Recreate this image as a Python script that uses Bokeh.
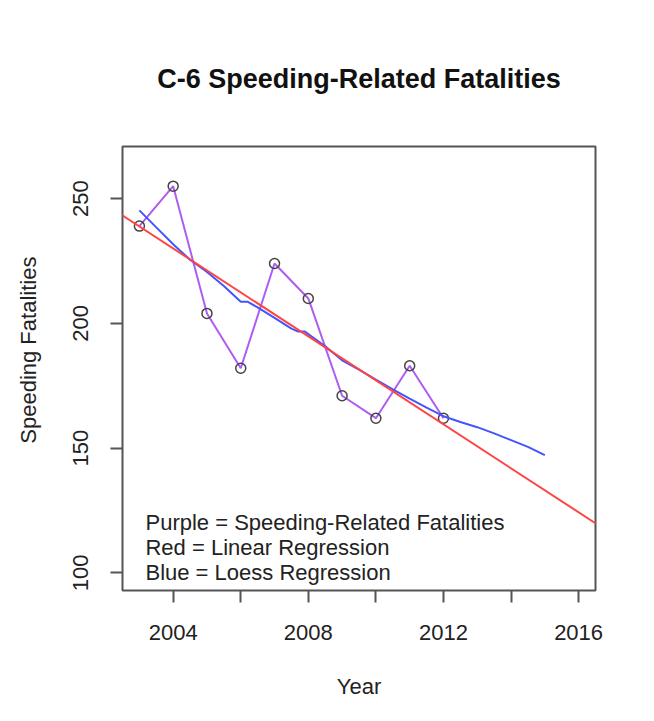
from bokeh.plotting import figure
from bokeh.models import Range1d, FixedTicker, Slope
from bokeh.core.properties import value
from bokeh.embed import file_html
from bokeh.resources import INLINE
import numpy as np

# ---- data ----
years = [2003, 2004, 2005, 2006, 2007, 2008, 2009, 2010, 2011, 2012]
fatalities = [239, 255, 204, 182, 224, 210, 171, 162, 183, 162]

loess_years = [2003.0, 2003.5, 2004.0, 2004.5, 2005.0, 2005.5, 2006.0, 2006.2,
               2006.5, 2007.0, 2007.5, 2007.7, 2007.9, 2008.1, 2008.5, 2009.0,
               2009.5, 2010.0, 2010.5, 2011.0, 2011.5, 2012.0, 2012.5, 2013.0,
               2013.5, 2014.0, 2014.5, 2015.0]
loess_values = [245.3, 238.5, 231.7, 225.5, 220.6, 215.0, 208.7, 208.7,
                206.4, 202.2, 197.9, 196.7, 196.7, 194.7, 190.8, 185.2,
                181.5, 177.5, 173.6, 169.8, 166.2, 162.8, 160.5, 158.4,
                155.9, 153.2, 150.5, 147.2]

x_ticks = [2004, 2006, 2008, 2010, 2012, 2014, 2016]
x_tick_labels = {2004: "2004", 2006: "", 2008: "2008", 2010: "", 2012: "2012", 2014: "", 2016: "2016"}
y_ticks = [100, 150, 200, 250]

legend_lines = ["Purple = Speeding-Related Fatalities",
                "Red = Linear Regression",
                "Blue = Loess Regression"]
legend_y = [120, 110, 100]
legend_x = [2003.18, 2003.18, 2003.18]

title_text = "C-6 Speeding-Related Fatalities"
x_label = "Year"
y_label = "Speeding Fatalities"

FONT = "Liberation Sans"
W, H = 654, 705
FL, FR, FT, FB = 122, 595, 146, 590   # plot frame edges in pixels

p = figure(width=W, height=H, output_backend="svg", toolbar_location=None,
           x_range=Range1d(2002.5, 2016.5), y_range=Range1d(92.94, 270.9),
           min_border_left=FL, min_border_right=W - FR,
           min_border_top=FT, min_border_bottom=H - FB)

p.background_fill_color = "white"
p.border_fill_color = "white"
p.outline_line_color = "#555555"
p.outline_line_width = 2
p.xgrid.visible = False
p.ygrid.visible = False

# title
p.title.text = title_text
p.title.align = "center"
p.title.text_font = FONT
p.title.text_font_size = "27px"
p.title.text_font_style = "bold"
p.title.text_color = "#111111"
p.title.standoff = 106

for ax in (p.xaxis[0], p.yaxis[0]):
    ax.axis_line_color = None
    ax.major_tick_line_color = "#555555"
    ax.major_tick_line_width = 2
    ax.major_tick_in = 0
    ax.major_tick_out = 12
    ax.minor_tick_line_color = None
    ax.major_label_text_font = FONT
    ax.major_label_text_font_size = "22px"
    ax.major_label_text_color = "#222222"
    ax.axis_label_text_font = FONT
    ax.axis_label_text_font_size = "22px"
    ax.axis_label_text_font_style = "normal"
    ax.axis_label_text_color = "#222222"

p.xaxis.ticker = FixedTicker(ticks=x_ticks)
p.xaxis.major_label_overrides = x_tick_labels
p.xaxis.major_label_standoff = 22
p.xaxis.axis_label = x_label
p.xaxis.axis_label_standoff = 31

p.yaxis.ticker = FixedTicker(ticks=y_ticks)
p.yaxis.major_label_orientation = "vertical"
p.yaxis.major_label_standoff = 22
# leading no-break spaces lift the visible label a little, as in the reference
p.yaxis.axis_label = "\u00a0" * 6 + y_label
p.yaxis.axis_label_standoff = 30

# observed series
p.line(years, fatalities, line_color="#AE5CF2", line_width=2)
p.scatter(years, fatalities, marker="circle", size=10, fill_color=None,
          line_color="#444444", line_width=1.5)

# linear regression
m, b = np.polyfit(years, fatalities, 1)
p.add_layout(Slope(gradient=m, y_intercept=b, line_color="#FF4444", line_width=2))

# loess curve
p.line(loess_years, loess_values, line_color="#4455FF", line_width=2)

# legend text
p.text(x=legend_x, y=legend_y, text=legend_lines, text_font=value(FONT),
       text_font_size=value("22px"), text_baseline="middle", text_align="left",
       text_color="#222222")

open("out.html", "w").write(file_html(p, INLINE))
